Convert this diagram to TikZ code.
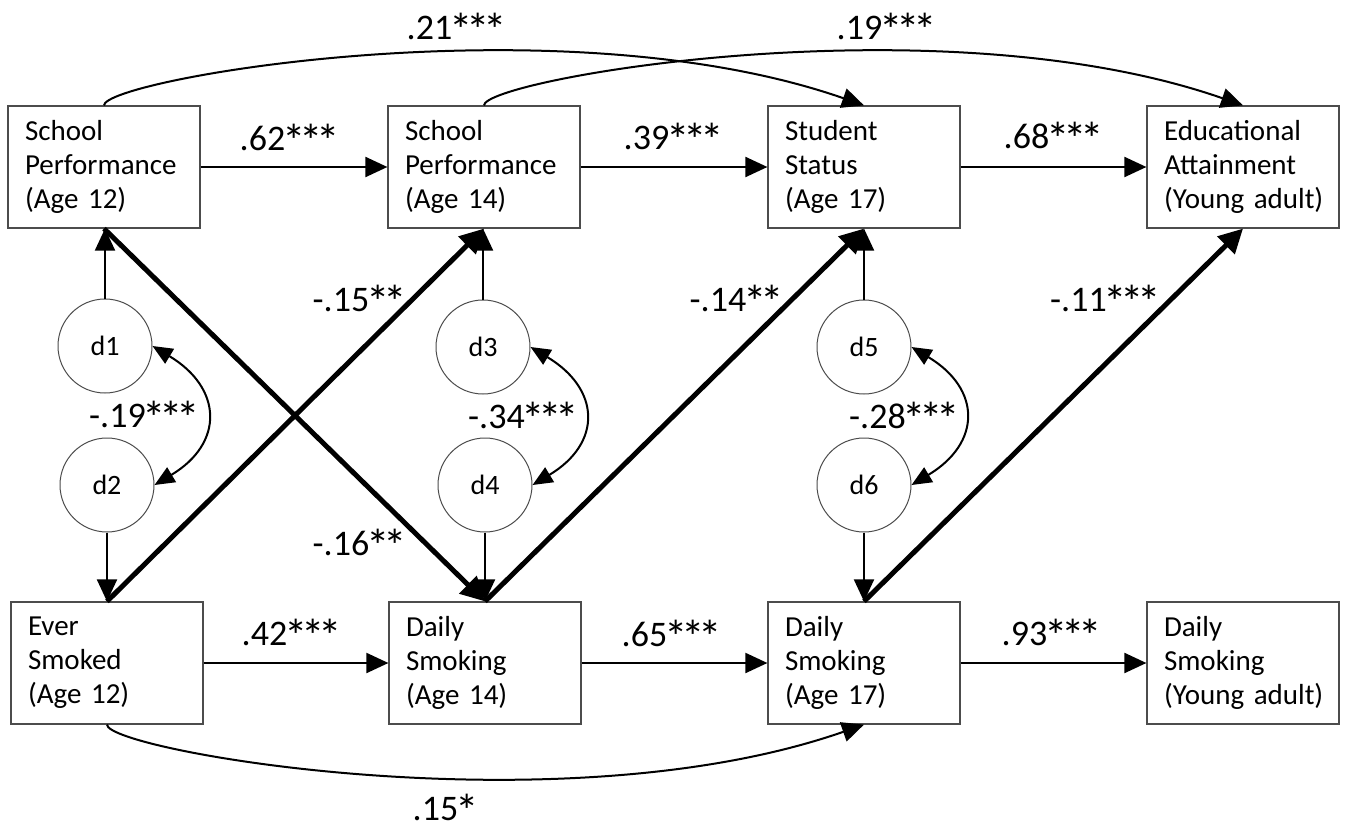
\documentclass[tikz,border=0pt]{standalone}
\usepackage{fontspec}
\setmainfont{Carlito}
\usetikzlibrary{arrows.meta,calc}
\newcommand\boxfont{\fontsize{29}{34}\selectfont}
\newcommand\coeffont{\fontsize{36}{40}\selectfont}
\newcommand\errfont{\fontsize{28}{32}\selectfont}
\newcommand\st{\makebox[17pt][c]{\raisebox{-7pt}[0pt][0pt]{\fontsize{47}{47}\selectfont *}}}
\begin{document}
\begin{tikzpicture}[x=1pt,y=-1pt,
  varbox/.style={draw=black!70, line width=1.2pt, minimum width=192pt, minimum height=122pt,
    text width=158pt, inner xsep=17pt, inner ysep=0pt, align=left, font=\boxfont},
  errnode/.style={circle, draw=black!70, line width=1pt, minimum size=94pt, inner sep=0pt, font=\errfont},
  coef/.style={inner sep=0pt, font=\coeffont},
  arr/.style={line width=2pt, -{Triangle[length=22pt,width=20pt]}},
  heavyarr/.style={line width=5pt, -{Triangle[length=24pt,width=24pt]}},
  dblarr/.style={line width=2pt, {Triangle[length=20pt,width=17pt]}-{Triangle[length=20pt,width=17pt]}},
]
\fill[white] (0,0) rectangle (1347,827);
\useasboundingbox (0,0) rectangle (1347,827);

% boxes
\node[varbox] (b1) at (104,167) {School\\Performance\\(Age 12)};
\node[varbox] (b2) at (484,167) {School\\Performance\\(Age 14)};
\node[varbox] (b3) at (864,167) {Student\\Status\\(Age 17)};
\node[varbox] (b4) at (1243,167) {Educational\\Attainment\\\mbox{(Young adult)}};
\node[varbox] (b5) at (107,663) {Ever\\Smoked\\(Age 12)};
\node[varbox] (b6) at (485,663) {Daily\\Smoking\\(Age 14)};
\node[varbox] (b7) at (864,663) {Daily\\Smoking\\(Age 17)};
\node[varbox] (b8) at (1243,663) {Daily\\Smoking\\\mbox{(Young adult)}};

% disturbances
\node[errnode] (d1) at (105,346) {d1};
\node[errnode] (d2) at (107,485) {d2};
\node[errnode] (d3) at (483,347) {d3};
\node[errnode] (d4) at (485,485) {d4};
\node[errnode] (d5) at (864,347) {d5};
\node[errnode] (d6) at (864,485) {d6};

% horizontal paths
\draw[arr] (b1.east) -- (b2.west);
\draw[arr] (b2.east) -- (b3.west);
\draw[arr] (b3.east) -- (b4.west);
\draw[arr] (b5.east) -- (b6.west);
\draw[arr] (b6.east) -- (b7.west);
\draw[arr] (b7.east) -- (b8.west);

% disturbance arrows
\draw[arr] (d1.north) -- (d1.north |- b1.south);
\draw[arr] (d2.south) -- (d2.south |- b5.north);
\draw[arr] (d3.north) -- (d3.north |- b2.south);
\draw[arr] (d4.south) -- (d4.south |- b6.north);
\draw[arr] (d5.north) -- (d5.north |- b3.south);
\draw[arr] (d6.south) -- (d6.south |- b7.north);

% correlations
\draw[dblarr] (d1.east) .. controls ($(d1.east)+(70,42)$) and ($(d2.east)+(70,-42)$) .. (d2.east);
\draw[dblarr] (d3.east) .. controls ($(d3.east)+(70,42)$) and ($(d4.east)+(70,-42)$) .. (d4.east);
\draw[dblarr] (d5.east) .. controls ($(d5.east)+(70,42)$) and ($(d6.east)+(70,-42)$) .. (d6.east);

% cross-lagged paths
\draw[heavyarr] (b5.north) -- (b2.south);
\draw[heavyarr] (b1.south) -- (b6.north);
\draw[heavyarr] (b6.north) -- (b3.south);
\draw[heavyarr] (b7.north) -- (b4.south);

% long curved paths
\draw[arr] (b1.north) .. controls ($(b1.north)+(0,-26)$) and ($(b3.north)+(-304,-106)$) .. (b3.north);
\draw[arr] (b2.north) .. controls ($(b2.north)+(0,-26)$) and ($(b4.north)+(-304,-106)$) .. (b4.north);
\draw[arr] (b5.south) .. controls ($(b5.south)+(0,26)$) and ($(b7.south)+(-304,106)$) .. (b7.south);

% coefficients
\node[coef] (l1) at (288,138) {.62\st\st\st};
\node[coef] (l2) at (672,138) {.39\st\st\st};
\node[coef] (l3) at (1052,136) {.68\st\st\st};
\node[coef] (l4) at (290,634) {.42\st\st\st};
\node[coef] (l5) at (670,634) {.65\st\st\st};
\node[coef] (l6) at (1050,634) {.93\st\st\st};
\node[coef] (l7) at (455,28) {.21\st\st\st};
\node[coef] (l8) at (885,28) {.19\st\st\st};
\node[coef] (l9) at (444,809) {.15\st};
\node[coef] (l10) at (358,300) {-.15\st\st};
\node[coef] (l11) at (358,543) {-.16\st\st};
\node[coef] (l12) at (735,300) {-.14\st\st};
\node[coef] (l13) at (1104,300) {-.11\st\st\st};
\node[coef] (l14) at (143,416) {-.19\st\st\st};
\node[coef] (l15) at (522,417) {-.34\st\st\st};
\node[coef] (l16) at (903,416) {-.28\st\st\st};
\end{tikzpicture}
\end{document}
